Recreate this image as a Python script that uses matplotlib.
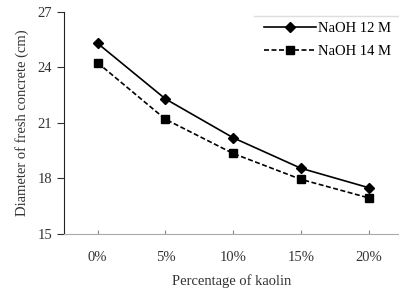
import matplotlib.pyplot as plt
from matplotlib.lines import Line2D
import numpy as np

categories = ['0%', '5%', '10%', '15%', '20%']
naoh_12 = [25.3, 22.3, 20.2, 18.55, 17.5]
naoh_14 = [24.25, 21.2, 19.35, 17.95, 16.95]
y_ticks = [15, 18, 21, 24, 27]

plt.rcParams['font.family'] = ['Liberation Serif', 'DejaVu Serif']
plt.rcParams['font.size'] = 10.5

fig = plt.figure(figsize=(3.99, 2.92), dpi=100)
ax = fig.add_axes([0.160, 0.199, 0.840, 0.760])

x = np.arange(len(categories))
ax.plot(x, naoh_12, c='black', lw=1.2, marker='D', ms=5, label='NaOH 12 M')
ax.plot(x, naoh_14, c='black', lw=1.2, ls=(0, (3, 1.5)), marker='s', ms=6, label='NaOH 14 M')

ax.set_xlim(-0.5, 4.45)
ax.set_ylim(15, 27)
ax.set_xticks(x)
ax.set_xticklabels(categories, color='#333333')
ax.set_yticks(y_ticks)
ax.tick_params(axis='y', direction='out', length=5, colors='#333333')
ax.tick_params(axis='x', direction='in', length=3, pad=12, colors='#888888', labelcolor='#333333')

ax.spines['top'].set_visible(False)
ax.spines['right'].set_visible(False)
ax.spines['bottom'].set_color('#aaaaaa')
ax.spines['left'].set_color('#222222')

ax.set_xlabel('Percentage of kaolin', color='#333333', labelpad=8)
ax.set_ylabel('Diameter of fresh concrete (cm)', color='#333333', labelpad=6)

ax.legend(loc='upper right', bbox_to_anchor=(1.012, 1.008), frameon=False,
          handlelength=3.6, handletextpad=0.15, labelspacing=0.65, borderpad=0.3)

# thin grey rule above the legend
fig.add_artist(Line2D([0.637, 1.0], [0.945, 0.945], color='#dddddd', lw=1.0))

fig.savefig('out.png', dpi=100)
